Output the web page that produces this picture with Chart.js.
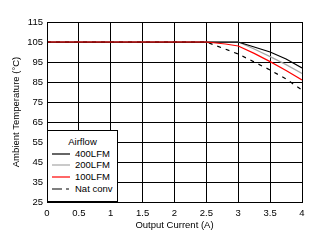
<!DOCTYPE html>
<html><head><meta charset="utf-8">
<script src="https://cdn.jsdelivr.net/npm/chart.js@4"></script>
<style>
html,body{margin:0;padding:0;background:#fff;}
#wrap{position:relative;width:319px;height:243px;}
#legend{position:absolute;left:47px;top:130px;width:69px;height:70px;background:#fff;border:1px solid #000;font-family:"Liberation Sans",Arial,sans-serif;font-size:9.5px;color:#000;}
#legend .t{position:absolute;left:0;width:69px;top:5px;text-align:center;line-height:12px;}
#legend .r{position:absolute;left:4px;height:12px;line-height:12px;white-space:nowrap;}
#legend svg{position:absolute;left:0;top:5px;}
#legend .r span{position:absolute;left:23px;top:0;}
</style></head><body>
<div id="wrap"><canvas id="c" width="319" height="243"></canvas>
<div id="legend"></div></div>
<script>
const xTicks = [0,0.5,1,1.5,2,2.5,3,3.5,4];
const yTicks = [25,35,45,55,65,75,85,95,105,115];
const seriesNames = ["400LFM","200LFM","100LFM","Nat conv"];
const x400 = [0,3,3.25,3.5,3.75,4];
const y400 = [105,105,102.5,100,96.5,92];
const x200 = [0,3,3.25,3.5,3.75,4];
const y200 = [105,105,101.5,97.7,93.7,89.3];
const x100 = [0,2.5,2.8,3,3.25,3.5,3.75,4];
const y100 = [105,105,104,103,99.3,95.2,90.8,86];
const xNat = [0,2.5,2.75,3,3.25,3.5,3.75,4];
const yNat = [105,105,102,99,95,91,86.5,81];

const colors = ["#000000","#a6a6a6","#ff0000","#000000"];
const dashes = [[],[],[],[4,5]];
const drawOrder = [2,2,0,1];
const xs=[x400,x200,x100,xNat], ys=[y400,y200,y100,yNat];
const pts=(xa,ya)=>xa.map((v,i)=>({x:v,y:ya[i]}));
const datasets = seriesNames.map((n,i)=>({label:n,data:pts(xs[i],ys[i]),borderColor:colors[i],borderWidth:1.2,borderDash:dashes[i],order:drawOrder[i],pointRadius:0,tension:0,fill:false}));

const font={family:"'Liberation Sans', Arial, sans-serif",size:9.5};
new Chart(document.getElementById('c'),{
  type:'line',
  data:{datasets},
  options:{
    responsive:false,animation:false,
    layout:{padding:{left:0,right:17,top:22,bottom:12}},
    plugins:{legend:{display:false},tooltip:{enabled:false}},
    scales:{
      x:{type:'linear',min:0,max:4,
        afterBuildTicks:s=>{s.ticks=xTicks.map(v=>({value:v}));},
        afterFit:s=>{s.height=29;},
        ticks:{color:'#000',font,padding:6,maxRotation:0,callback:v=>String(v)},
        grid:{color:'#000',lineWidth:1,drawTicks:false},
        border:{color:'#000',width:1},
        title:{display:true,text:'Output Current (A)',color:'#000',font,padding:{top:0,bottom:0}}},
      y:{type:'linear',min:25,max:115,
        afterBuildTicks:s=>{s.ticks=yTicks.map(v=>({value:v}));},
        afterFit:s=>{s.width=47;},
        ticks:{color:'#000',font,padding:4},
        grid:{color:'#000',lineWidth:1,drawTicks:false},
        border:{color:'#000',width:1},
        title:{display:true,text:'Ambient Temperature (°C)',color:'#000',font,padding:{top:10.5,bottom:0}}}
    }
  },
  plugins:[{id:'frame',afterDraw(c){const a=c.chartArea,ctx=c.ctx;ctx.save();ctx.strokeStyle='#000';ctx.lineWidth=1;ctx.strokeRect(Math.round(a.left)+0.5,Math.round(a.top)+0.5,Math.round(a.right-a.left),Math.round(a.bottom-a.top));ctx.restore();}}]
});

// HTML legend
const lg=document.getElementById('legend');
let h='<div class="t">Airflow</div>';
const rowTops=[17,28,40,52];
seriesNames.forEach((n,i)=>{
  const d=dashes[i].length? 'stroke-dasharray="10,4,3,10"':'';
  h+=`<div class="r" style="top:${rowTops[i]}px"><svg width="20" height="3"><line x1="0" y1="1" x2="18" y2="1" stroke="${colors[i]}" stroke-width="1.2" ${d}/></svg><span>${n}</span></div>`;
});
lg.innerHTML=h;
</script>
</body></html>
